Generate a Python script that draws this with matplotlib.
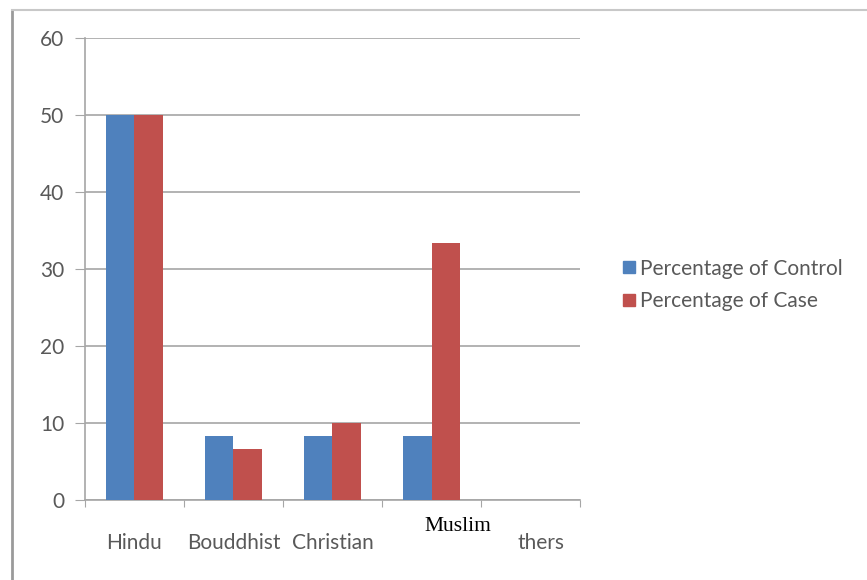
import matplotlib.pyplot as plt
import numpy as np
from matplotlib.lines import Line2D
from matplotlib.transforms import blended_transform_factory

# Religion of respondents, control vs case groups (%)
religions = ["Hindu", "Bouddhist", "Christian", "Muslim", "Others"]
pct_control = [50.0, 8.33, 8.33, 8.33, 0.0]
pct_case = [50.0, 6.67, 10.0, 33.33, 0.0]
y_ticks = [0, 10, 20, 30, 40, 50, 60]

blue = "#4F81BD"
red = "#C0504D"
grid_gray = "#A6A6A6"
text_gray = "#595959"

plt.rcParams['font.family'] = ['Lato', 'DejaVu Sans']

fig = plt.figure(figsize=(8.67, 5.8), dpi=100)
ax = fig.add_axes([0.098, 0.138, 0.571, 0.797])

x = np.arange(len(religions))
w = 0.285
ax.bar(x - w / 2, pct_control, w, color=blue, label="Percentage of Control", zorder=3)
ax.bar(x + w / 2, pct_case, w, color=red, label="Percentage of Case", zorder=3)

ax.set_xlim(-0.5, len(religions) - 0.5)
ax.set_ylim(0, 60)
ax.set_yticks(y_ticks)
ax.yaxis.grid(True, color=grid_gray, linewidth=1.2, zorder=0)
ax.tick_params(axis='y', length=7, color=grid_gray, labelsize=15,
               labelcolor=text_gray, pad=8)

# category boundary ticks below the axis
ax.set_xticks(np.arange(-0.5, len(religions)))
ax.set_xticklabels([])
ax.tick_params(axis='x', direction='out', length=5, color=grid_gray)

for side in ["top", "right"]:
    ax.spines[side].set_visible(False)
for side in ["left", "bottom"]:
    ax.spines[side].set_color(grid_gray)
    ax.spines[side].set_linewidth(1.2)

# category labels
trans = blended_transform_factory(ax.transData, ax.transAxes)
for i, name in enumerate(religions[:3]):
    ax.text(i, -0.093, name, transform=trans, ha='center', va='center',
            fontsize=15, color=text_gray)
ax.text(3.27, -0.058, religions[3], transform=trans, ha='center', va='center',
        fontsize=15.5, color="black", family="Liberation Serif")
ax.text(3.87, -0.093, religions[4][1:], transform=trans, ha='left', va='center',
        fontsize=15, color=text_gray)

# legend
handles = [Line2D([], [], marker='s', linestyle='none', markersize=8,
                  markerfacecolor=c, markeredgecolor=c) for c in (blue, red)]
fig.legend(handles, ["Percentage of Control", "Percentage of Case"],
           loc='center left', bbox_to_anchor=(0.694, 0.509), frameon=False,
           fontsize=15, labelcolor=text_gray, handletextpad=0.15,
           labelspacing=0.6, handlelength=0.8)

# outer frame lines
fig.add_artist(Line2D([12 / 867, 12 / 867], [0, 1 - 10 / 580], color="#9A9A9A",
                      linewidth=2, transform=fig.transFigure))
fig.add_artist(Line2D([12 / 867, 1], [1 - 10 / 580, 1 - 10 / 580], color="#C8C8C8",
                      linewidth=1.5, transform=fig.transFigure))

fig.savefig("out.png", dpi=100)
